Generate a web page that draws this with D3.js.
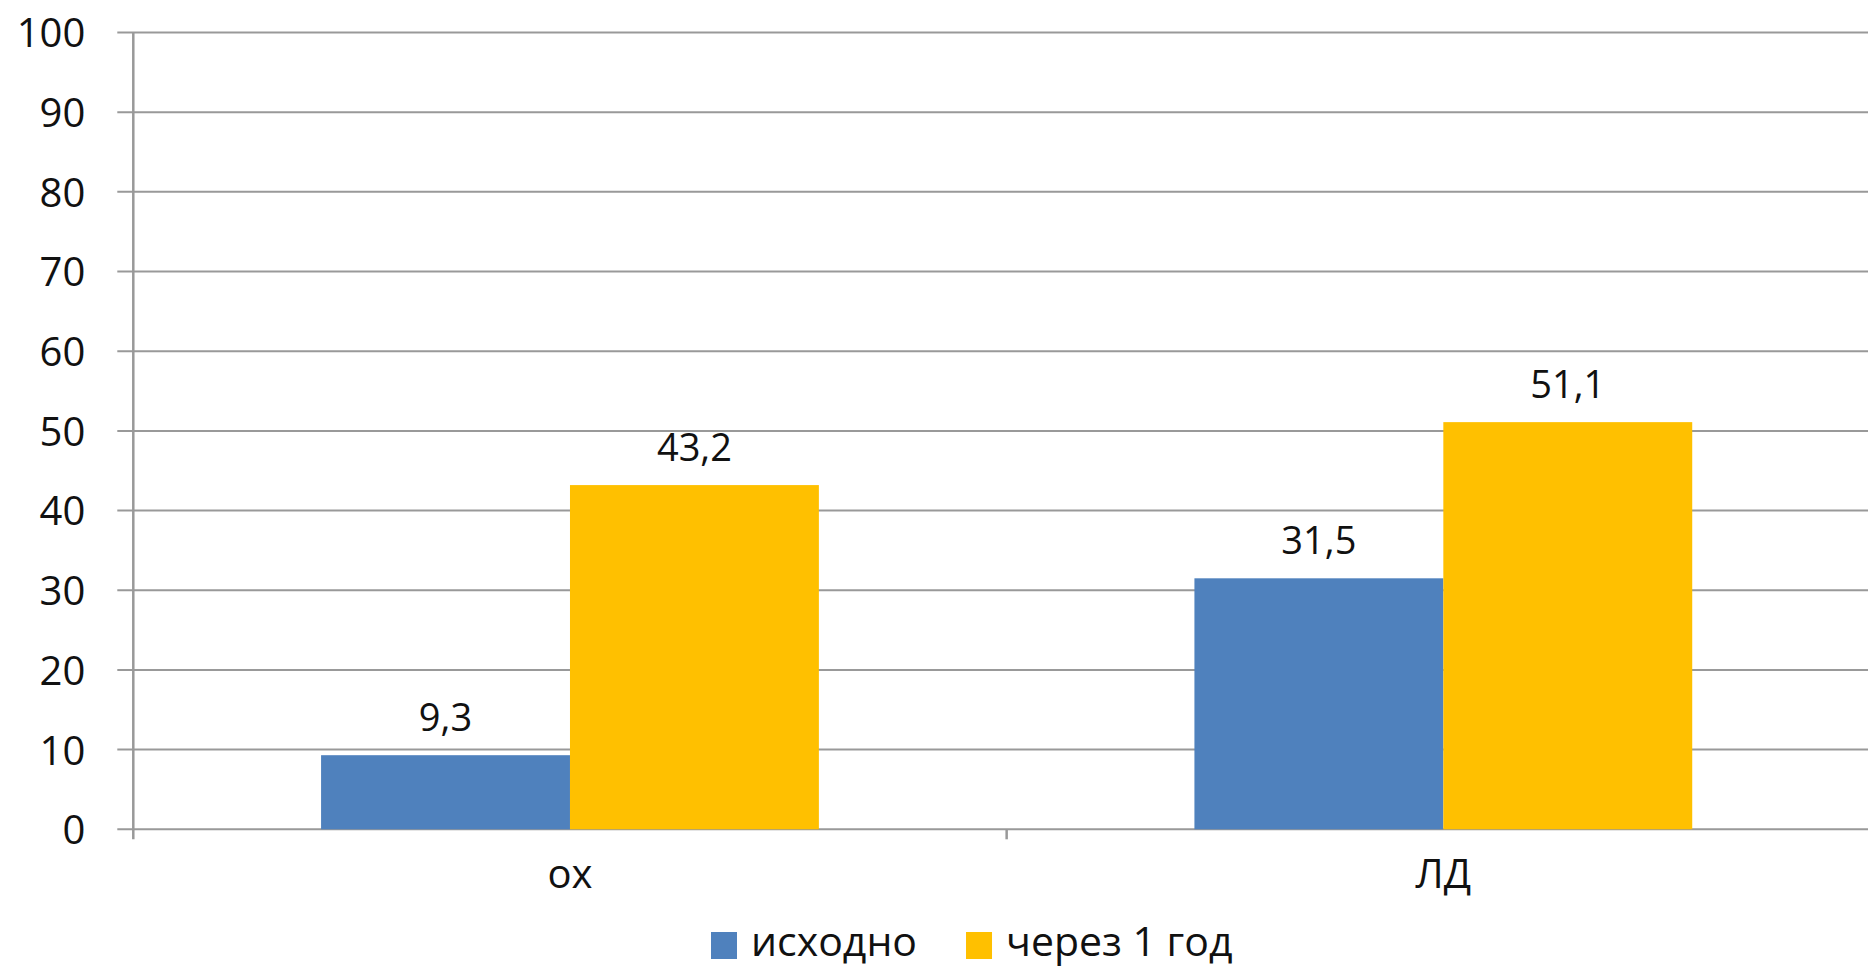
<!DOCTYPE html>
<html>
<head>
<meta charset="utf-8">
<script src="https://cdn.jsdelivr.net/npm/d3@7"></script>
<style>
  html, body { margin: 0; padding: 0; background: #fff; }
  svg { display: block; }
  text { font-family: "Open Sans", "Noto Sans", sans-serif; fill: #111; }
</style>
</head>
<body>
<svg id="chart" width="1868" height="968"></svg>
<script>
// Categories and series
const categories = ["ох", "ЛД"];
const seriesNames = ["исходно", "через 1 год"];
const seriesColors = ["#4f81bd", "#ffc000"];
const valuesInitial = [9.3, 31.5];
const valuesAfterYear = [43.2, 51.1];
const yTicks = [0, 10, 20, 30, 40, 50, 60, 70, 80, 90, 100];

const fmt = v => String(v).replace(".", ",");

const svg = d3.select("#chart");
const W = 1868;

const plotLeft = 133.3;
const plotRight = 1880;   // plot area runs past the right edge of the canvas
const plotTop = 32.5;
const plotBottom = 829.3;

const y = d3.scaleLinear().domain([0, 100]).range([plotBottom, plotTop]);
const x = d3.scaleBand().domain(categories).range([plotLeft, plotRight]).padding(0);

// bars within each category group
const groupWidth = x.bandwidth() * 0.57;
const xs = d3.scaleBand().domain(seriesNames).range([0, groupWidth]).padding(0);

const rows = categories.map((c, i) => ({
  cat: c,
  vals: [valuesInitial[i], valuesAfterYear[i]]
}));

// gridlines with left tick stubs
const grid = svg.append("g");
grid.selectAll("line")
  .data(yTicks)
  .join("line")
  .attr("x1", plotLeft - 16)
  .attr("x2", W)
  .attr("y1", d => y(d))
  .attr("y2", d => y(d))
  .attr("stroke", "#999")
  .attr("stroke-width", 2);

// bars
const groups = svg.append("g").selectAll("g")
  .data(rows)
  .join("g")
  .attr("transform", d => `translate(${x(d.cat) + x.bandwidth() / 2 - groupWidth / 2},0)`);

groups.selectAll("rect")
  .data(d => d.vals.map((v, k) => ({ v, k })))
  .join("rect")
  .attr("x", d => xs(seriesNames[d.k]))
  .attr("width", xs.bandwidth())
  .attr("y", d => y(d.v))
  .attr("height", d => y(0) - y(d.v))
  .attr("fill", d => seriesColors[d.k]);

// value labels
groups.selectAll("text")
  .data(d => d.vals.map((v, k) => ({ v, k })))
  .join("text")
  .attr("x", d => xs(seriesNames[d.k]) + xs.bandwidth() / 2)
  .attr("y", d => y(d.v) - 24)
  .attr("text-anchor", "middle")
  .attr("font-size", 38)
  .text(d => fmt(d.v));

// y axis
const yAxis = d3.axisLeft(y).tickValues(yTicks).tickSize(0).tickPadding(0);
const yg = svg.append("g").attr("transform", `translate(${plotLeft},0)`).call(yAxis);
yg.select(".domain").remove();
yg.selectAll("text")
  .attr("x", -48)
  .attr("dy", "0.36em")
  .attr("font-size", 40)
  .attr("font-family", null)
  .attr("fill", "#111");

svg.append("line")
  .attr("x1", plotLeft).attr("x2", plotLeft)
  .attr("y1", plotTop).attr("y2", plotBottom + 10)
  .attr("stroke", "#999").attr("stroke-width", 2.5);

// x axis: baseline, category boundary ticks, labels
const xAxis = d3.axisBottom(x).tickSize(0).tickPadding(0);
const xg = svg.append("g").attr("transform", `translate(0,${plotBottom})`).call(xAxis);
xg.select(".domain").remove();
xg.selectAll("text")
  .attr("y", 59)
  .attr("dy", 0)
  .attr("font-size", 40)
  .attr("font-family", null)
  .attr("fill", "#111");

svg.append("g").selectAll("line")
  .data(categories.slice(1))
  .join("line")
  .attr("x1", d => x(d)).attr("x2", d => x(d))
  .attr("y1", plotBottom).attr("y2", plotBottom + 10)
  .attr("stroke", "#999").attr("stroke-width", 2.5);

// legend
const legend = svg.append("g").attr("transform", "translate(711,932)");
let lx = 0;
seriesNames.forEach((name, i) => {
  const item = legend.append("g").attr("transform", `translate(${lx},0)`);
  item.append("rect").attr("width", 26).attr("height", 27).attr("fill", seriesColors[i]);
  const t = item.append("text").attr("x", 40).attr("y", 24).attr("font-size", 41).text(name);
  lx += 40 + t.node().getComputedTextLength() + 49;
});
</script>
</body>
</html>
